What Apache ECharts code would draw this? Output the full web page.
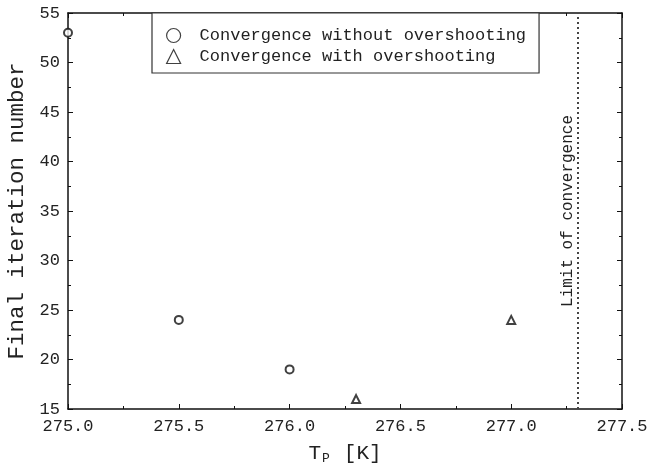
<!DOCTYPE html>
<html>
<head>
<meta charset="utf-8">
<script src="https://cdn.jsdelivr.net/npm/echarts@6/dist/echarts.min.js"></script>
<style>
  html, body { margin: 0; padding: 0; background: #fff; }
  #chart { width: 647px; height: 466px; }
</style>
</head>
<body>
<div id="chart"></div>
<script>
// Temperatures T_P [K] and final iteration counts
const noOvershootT = [275.0, 275.5, 276.0];
const noOvershootIter = [53, 24, 19];
const overshootT = [276.3, 277.0];
const overshootIter = [16, 24];
const convergenceLimitT = 277.3;
const seriesNames = ['Convergence without overshooting', 'Convergence with overshooting'];

const mono = 'Liberation Mono, Courier New, monospace';
const ink = '#222';
const toPairs = (xs, ys) => xs.map((x, i) => [x, ys[i]]);

const chart = echarts.init(document.getElementById('chart'));

const xBase = {
  type: 'value', min: 275.0, max: 277.5, interval: 0.5,
  axisLine: { show: true, onZero: false, lineStyle: { color: '#111', width: 1.5 } },
  axisTick: { show: true, inside: true, length: 5, lineStyle: { color: '#111' } },
  minorTick: { show: true, splitNumber: 2, length: 3, lineStyle: { color: '#111' } },
  splitLine: { show: false }
};
const yBase = {
  type: 'value', min: 15, max: 55, interval: 5,
  axisLine: { show: true, onZero: false, lineStyle: { color: '#111', width: 1.5 } },
  axisTick: { show: true, inside: true, length: 5, lineStyle: { color: '#111' } },
  minorTick: { show: true, splitNumber: 2, length: 3, lineStyle: { color: '#111' } },
  splitLine: { show: false }
};

chart.setOption({
  animation: false,
  backgroundColor: '#fff',
  grid: { left: 68, right: 25, top: 13, bottom: 57, containLabel: false, outerBoundsMode: 'none' },
  xAxis: [
    Object.assign({}, xBase, {
      position: 'bottom',
      axisLabel: { fontFamily: mono, fontSize: 17, color: ink, margin: 9,
        formatter: v => v.toFixed(1) },
      name: '{t|T}{s|P}{g|}{t|[K]}',
      nameLocation: 'middle', nameGap: 32,
      nameTextStyle: {
        rich: {
          t: { fontFamily: mono, fontSize: 21, color: ink },
          s: { fontFamily: mono, fontSize: 13, color: ink, padding: [11, 0, 0, 1] },
          g: { width: 14 }
        }
      }
    }),
    Object.assign({}, xBase, { position: 'top', axisLabel: { show: false } })
  ],
  yAxis: [
    Object.assign({}, yBase, {
      position: 'left',
      axisLabel: { fontFamily: mono, fontSize: 17, color: ink, margin: 8 },
      name: 'Final iteration number',
      nameLocation: 'middle', nameGap: 37,
      nameTextStyle: { fontFamily: mono, fontSize: 22.5, color: ink }
    }),
    Object.assign({}, yBase, { position: 'right', axisLabel: { show: false } })
  ],
  legend: {
    orient: 'vertical',
    left: 152, top: 13,
    padding: [14, 13, 8, 14],
    itemGap: 4,
    itemWidth: 14, itemHeight: 14,
    borderColor: '#333', borderWidth: 1.2,
    backgroundColor: '#fff',
    textStyle: { fontFamily: mono, fontSize: 17, color: ink, padding: [0, 0, 0, 14] },
    data: [
      { name: seriesNames[0], icon: 'circle',
        itemStyle: { color: '#fff', borderColor: '#111', borderWidth: 1.2 } },
      { name: seriesNames[1], icon: 'triangle',
        itemStyle: { color: '#fff', borderColor: '#111', borderWidth: 1.2 } }
    ]
  },
  series: [
    {
      name: seriesNames[0], type: 'scatter',
      symbol: 'emptyCircle', symbolSize: 8,
      itemStyle: { color: '#111', borderWidth: 1.2 },
      data: toPairs(noOvershootT, noOvershootIter),
      markLine: {
        silent: true, symbol: 'none',
        lineStyle: { color: '#444', width: 2, type: [2, 3] },
        label: {
          show: true, position: 'insideMiddleTop',
          formatter: 'Limit of convergence',
          fontFamily: mono, fontSize: 16, color: ink, distance: 2
        },
        data: [{ xAxis: convergenceLimitT }]
      }
    },
    {
      name: seriesNames[1], type: 'scatter',
      symbol: 'emptyTriangle', symbolSize: 8,
      itemStyle: { color: '#111', borderWidth: 1.2 },
      data: toPairs(overshootT, overshootIter)
    }
  ]
});
</script>
</body>
</html>
